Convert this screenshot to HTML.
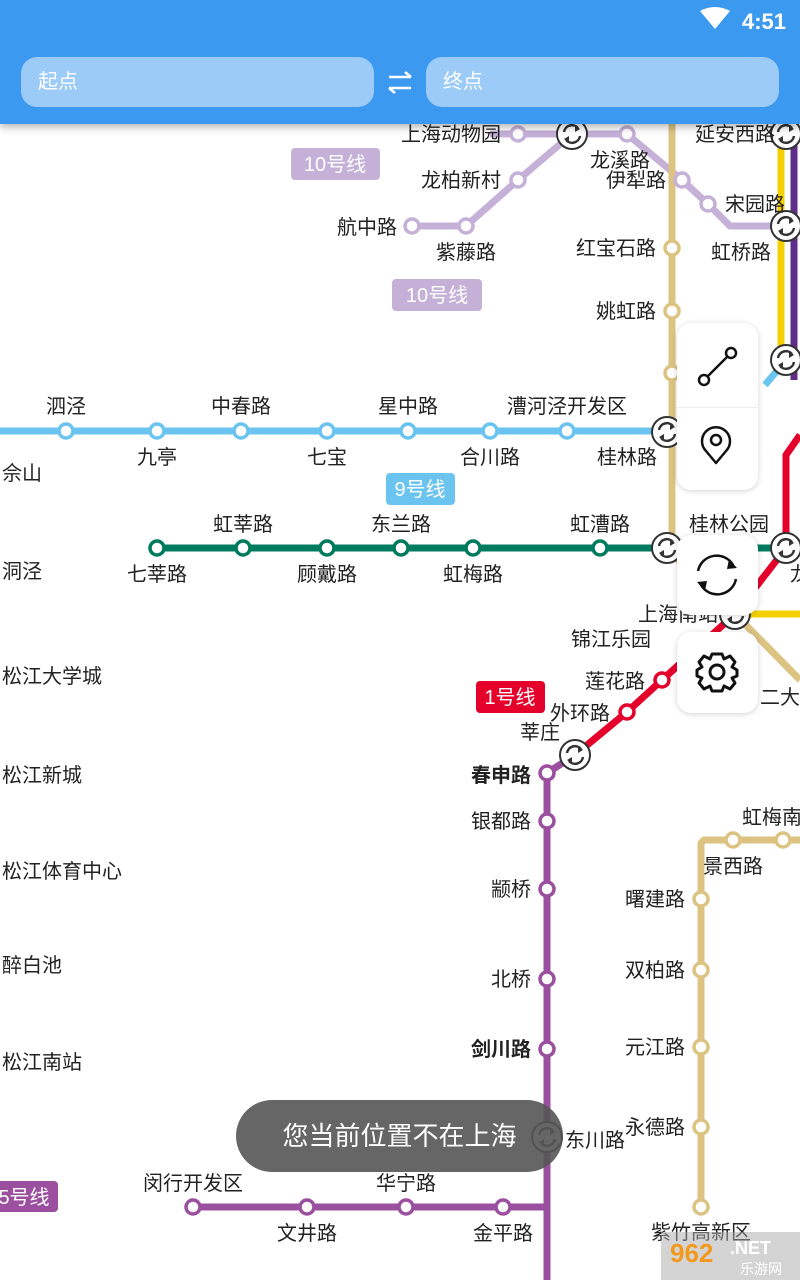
<!DOCTYPE html>
<html><head><meta charset="utf-8"><style>
body{margin:0;width:800px;height:1280px;overflow:hidden;background:#fff;font-family:"Liberation Sans","Noto Sans CJK SC",sans-serif;position:relative}
svg{position:absolute;left:0;top:0}
.hdr{position:absolute;left:0;top:0;width:800px;height:124px;background:#3b99f0;box-shadow:0 3px 8px rgba(0,0,0,.3)}
.inp{position:absolute;top:57px;height:50px;background:#9ccbf8;border-radius:16px;color:#fff;font-size:20px;line-height:50px;padding-left:17px;box-sizing:border-box}
.btn{position:absolute;left:677px;width:81px;background:#fff;border-radius:14px;box-shadow:0 1px 6px rgba(0,0,0,.18)}
.toast{position:absolute;left:236px;top:1100px;width:327px;height:72px;border-radius:36px;background:rgba(85,85,85,.9);color:#fff;font-size:26px;line-height:72px;text-align:center}
</style></head><body>
<svg width="800" height="1280" font-family="Liberation Sans, Noto Sans CJK SC, sans-serif" font-size="20" fill="#222">
<defs>
<g id="x"><circle r="15" fill="#fff" stroke="#333" stroke-width="2"/><path d="M-8,-2 A8,8 0 0 1 6,-6" fill="none" stroke="#333" stroke-width="2.5"/><path d="M3,-9 L8,-5 L3,-2Z" fill="#333"/><path d="M8,2 A8,8 0 0 1 -6,6" fill="none" stroke="#333" stroke-width="2.5"/><path d="M-3,9 L-8,5 L-3,2Z" fill="#333"/></g>
</defs>
<g fill="none" stroke-width="7" stroke-linejoin="round">
<polyline stroke="#c5b0d8" points="412,226 466,226 518,180 572,134"/>
<polyline stroke="#c5b0d8" points="490,134 627,134 682,180 708,204 730,226 800,226"/>
<polyline stroke="#dcc382" points="672,124 672,548 700,600 735,614 800,680"/>
<line stroke="#f5d000" x1="781" y1="124" x2="781" y2="370"/>
<line stroke="#5f2d8a" x1="794" y1="124" x2="794" y2="380"/>
<line stroke="#f5d000" x1="740" y1="614" x2="800" y2="614"/>
<line stroke="#6ac4ef" x1="0" y1="431" x2="672" y2="431"/>
<line stroke="#6ac4ef" x1="765" y1="385" x2="786" y2="360"/>
<line stroke="#007b5f" x1="157" y1="548" x2="800" y2="548"/>
<polyline stroke="#e4002b" points="575,755 627,712 662,680 735,614 786,548 786,455 800,435"/>
<polyline stroke="#9b4f9f" points="575,755 547,773 547,1280"/>
<polyline stroke="#9b4f9f" points="193,1207 547,1207"/>
<polyline stroke="#dcc382" points="800,840 704,840 701,843 701,1207"/>
</g>
<g fill="#fff" stroke-width="3.5">
<g stroke="#c5b0d8"><circle cx="412" cy="226" r="7"/><circle cx="466" cy="226" r="7"/><circle cx="518" cy="180" r="7"/><circle cx="518" cy="134" r="7"/><circle cx="627" cy="134" r="7"/><circle cx="682" cy="180" r="7"/><circle cx="708" cy="204" r="7"/></g>
<g stroke="#dcc382"><circle cx="672" cy="248" r="7"/><circle cx="672" cy="311" r="7"/><circle cx="672" cy="373" r="7"/><circle cx="733" cy="840" r="7"/><circle cx="783" cy="840" r="7"/><circle cx="701" cy="899" r="7"/><circle cx="701" cy="970" r="7"/><circle cx="701" cy="1047" r="7"/><circle cx="701" cy="1127" r="7"/><circle cx="701" cy="1207" r="7"/></g>
<g stroke="#6ac4ef"><circle cx="66" cy="431" r="7"/><circle cx="157" cy="431" r="7"/><circle cx="241" cy="431" r="7"/><circle cx="327" cy="431" r="7"/><circle cx="408" cy="431" r="7"/><circle cx="490" cy="431" r="7"/><circle cx="567" cy="431" r="7"/></g>
<g stroke="#007b5f"><circle cx="157" cy="548" r="7"/><circle cx="243" cy="548" r="7"/><circle cx="327" cy="548" r="7"/><circle cx="401" cy="548" r="7"/><circle cx="473" cy="548" r="7"/><circle cx="600" cy="548" r="7"/></g>
<g stroke="#e4002b"><circle cx="627" cy="712" r="7"/><circle cx="662" cy="680" r="7"/></g>
<g stroke="#9b4f9f"><circle cx="547" cy="773" r="7"/><circle cx="547" cy="821" r="7"/><circle cx="547" cy="889" r="7"/><circle cx="547" cy="979" r="7"/><circle cx="547" cy="1049" r="7"/><circle cx="193" cy="1207" r="7"/><circle cx="307" cy="1207" r="7"/><circle cx="406" cy="1207" r="7"/><circle cx="503" cy="1207" r="7"/></g>
</g>
<use href="#x" x="572" y="134"/><use href="#x" x="786" y="134"/><use href="#x" x="786" y="226"/><use href="#x" x="786" y="360"/><use href="#x" x="667" y="432"/><use href="#x" x="667" y="548"/><use href="#x" x="786" y="548"/><use href="#x" x="735" y="614"/><use href="#x" x="575" y="755"/><use href="#x" x="547" y="1137"/>
<g fill="#c5b0d8"><rect x="291" y="148" width="89" height="32" rx="4"/><rect x="392" y="279" width="90" height="32" rx="4"/></g>
<rect x="386" y="473" width="69" height="32" rx="4" fill="#6ac4ef"/>
<rect x="476" y="681" width="69" height="32" rx="4" fill="#e4002b"/>
<rect x="-10" y="1181" width="68" height="31" rx="4" fill="#9b4f9f"/>
<g fill="#fff" font-size="20"><text x="335" y="171" text-anchor="middle">10号线</text><text x="437" y="302" text-anchor="middle">10号线</text><text x="420" y="496" text-anchor="middle">9号线</text><text x="510" y="704" text-anchor="middle">1号线</text><text x="24" y="1204" text-anchor="middle">5号线</text></g>
<g text-anchor="end">
<text x="501" y="141">上海动物园</text><text x="501" y="187">龙柏新村</text><text x="397" y="234">航中路</text><text x="656" y="255">红宝石路</text><text x="656" y="318">姚虹路</text><text x="666" y="187">伊犁路</text><text x="651" y="646">锦江乐园</text><text x="718" y="621">上海南站</text><text x="645" y="688">莲花路</text><text x="610" y="720">外环路</text><text x="560" y="739">莘庄</text>
<text x="531" y="782" font-weight="bold">春申路</text><text x="531" y="828">银都路</text><text x="531" y="896">颛桥</text><text x="531" y="986">北桥</text><text x="531" y="1056" font-weight="bold">剑川路</text>
<text x="685" y="906">曙建路</text><text x="685" y="977">双柏路</text><text x="685" y="1054">元江路</text><text x="685" y="1134">永德路</text>
</g>
<g text-anchor="middle">
<text x="620" y="167">龙溪路</text><text x="466" y="259">紫藤路</text><text x="735" y="141">延安西路</text><text x="755" y="211">宋园路</text><text x="741" y="259">虹桥路</text>
<text x="66" y="413">泗泾</text><text x="241" y="413">中春路</text><text x="408" y="413">星中路</text><text x="567" y="413">漕河泾开发区</text>
<text x="157" y="464">九亭</text><text x="327" y="464">七宝</text><text x="490" y="464">合川路</text><text x="627" y="464">桂林路</text>
<text x="243" y="531">虹莘路</text><text x="401" y="531">东兰路</text><text x="600" y="531">虹漕路</text><text x="729" y="531">桂林公园</text>
<text x="157" y="581">七莘路</text><text x="327" y="581">顾戴路</text><text x="473" y="581">虹梅路</text>
<text x="772" y="824">虹梅南</text><text x="733" y="873">景西路</text><text x="701" y="1239">紫竹高新区</text>
<text x="193" y="1190">闵行开发区</text><text x="307" y="1240">文井路</text><text x="406" y="1190">华宁路</text><text x="503" y="1240">金平路</text>
</g>
<text x="565" y="1147">东川路</text><text x="760" y="704">二大学</text><text x="790" y="581">龙</text>
<g><text x="2" y="480">佘山</text><text x="2" y="578">洞泾</text><text x="2" y="683">松江大学城</text><text x="2" y="782">松江新城</text><text x="2" y="878">松江体育中心</text><text x="2" y="972">醉白池</text><text x="2" y="1069">松江南站</text></g>
<rect x="661" y="1232" width="139" height="48" fill="#aaa" opacity=".5"/>
<text x="670" y="1262" font-size="26" font-weight="bold" fill="#f39a1e">962</text><text x="730" y="1254" font-size="18" font-weight="bold" fill="#fff">.NET</text><text x="740" y="1274" font-size="14" fill="#fff">乐游网</text>
</svg>
<div class="hdr">
<svg width="800" height="124"><path d="M700,11 Q715,3 730,11 L715,29Z" fill="#fff"/><text x="742" y="29" fill="#fff" font-size="22" font-weight="bold" font-family="Liberation Sans,sans-serif">4:51</text>
<g stroke="#fff" stroke-width="2.5" fill="none"><path d="M389,77 H411 M405,72 L411,77"/><path d="M411,88 H389 M395,93 L389,88"/></g></svg>
<div class="inp" style="left:21px;width:353px">起点</div>
<div class="inp" style="left:426px;width:353px">终点</div>
</div>
<div class="btn" style="top:323px;height:167px"><div style="position:absolute;top:84px;left:0;width:81px;height:1px;background:#eee"></div>
<svg width="81" height="167"><g fill="none" stroke="#111" stroke-width="2.5"><circle cx="27" cy="57" r="5"/><circle cx="54" cy="30" r="5"/><line x1="31" y1="53" x2="50" y2="34"/><path d="M39,140 L29,128 A14,14 0 1 1 49,128 Z" stroke-linejoin="round"/><circle cx="39" cy="117" r="5"/></g></svg></div>
<div class="btn" style="top:535px;height:80px"><svg width="81" height="80"><g fill="none" stroke="#111" stroke-width="2.5"><path d="M21,36 A19,19 0 0 1 56,30"/><path d="M59,44 A19,19 0 0 1 24,50"/></g><path d="M52,24 L60,33 L50,34Z M28,56 L20,47 L30,46Z" fill="#111"/></svg></div>
<div class="btn" style="top:632px;height:81px"><svg width="81" height="81"><g fill="none" stroke="#111" stroke-width="3" stroke-linejoin="round"><path d="M35,22 L45,22 L47,27 L53,24 L58,30 L55,35 L60,38 L60,44 L55,46 L58,51 L53,57 L47,54 L45,59 L35,59 L33,54 L27,57 L22,51 L25,46 L20,44 L20,38 L25,35 L22,30 L27,24 L33,27Z"/><circle cx="40" cy="40" r="7"/></g></svg></div>
<div class="toast">您当前位置不在上海</div>
</body></html>
